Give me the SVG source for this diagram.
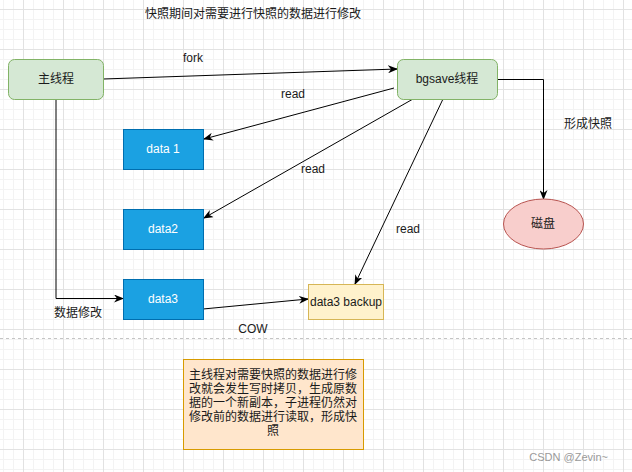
<svg xmlns="http://www.w3.org/2000/svg" width="632" height="472" viewBox="0 0 632 472">
<defs>
<pattern id="grid" x="23" y="9" width="40" height="40" patternUnits="userSpaceOnUse">
<path d="M10.5,0 V40 M20.5,0 V40 M30.5,0 V40 M0,10.5 H40 M0,20.5 H40 M0,30.5 H40" stroke="#f3f3f3" stroke-width="1" fill="none"/>
<path d="M0.5,0 V40 M0,0.5 H40" stroke="#e2e2e2" stroke-width="1" fill="none"/>
</pattern>
<marker id="arr" viewBox="0 0 10 8" refX="9" refY="4" markerWidth="10" markerHeight="8" markerUnits="userSpaceOnUse" orient="auto">
<path d="M0,0 L10,4 L0,8 L3,4 z" fill="#000"/>
</marker>
<style>
text{font-family:"Liberation Sans","Noto Sans CJK SC",sans-serif;font-size:12px;fill:#1a1a1a;}
.c{text-anchor:middle;dominant-baseline:central;}
.w{fill:#ffffff;}
.edge{fill:none;stroke:#000;stroke-width:1;marker-end:url(#arr);}
.green{fill:#d5e8d4;stroke:#82b366;stroke-width:1;}
.blue{fill:#1ba1e2;stroke:#006eaf;stroke-width:1;}
.yellow{fill:#fff2cc;stroke:#d6b656;stroke-width:1;}
.red{fill:#f8cecc;stroke:#b85450;stroke-width:1;}
.orange{fill:#ffe6cc;stroke:#d79b00;stroke-width:1;}
</style>
</defs>
<rect width="632" height="472" fill="#ffffff"/>
<rect width="632" height="472" fill="url(#grid)"/>
<line x1="0" y1="338.5" x2="632" y2="338.5" stroke="#c4c4c4" stroke-width="1" stroke-dasharray="3 3"/>
<text class="c" x="253" y="14">快照期间对需要进行快照的数据进行修改</text>

<g id="connectors">
<path class="edge" d="M103,79 L397,69"/>
<path class="edge" d="M394,88 L204,139"/>
<path class="edge" d="M413,99 L204,218"/>
<path class="edge" d="M443,99 L355,284"/>
<path class="edge" d="M497,79.5 H543.5 V199"/>
<path class="edge" d="M56,99 V298.5 H123"/>
<path class="edge" d="M203,309 L308,299"/>
<text class="c" x="193" y="58">fork</text>
<text class="c" x="293" y="94">read</text>
<text class="c" x="313" y="169">read</text>
<text class="c" x="408" y="229">read</text>
<text class="c" x="588" y="124">形成快照</text>
<text class="c" x="78" y="313">数据修改</text>
<text class="c" x="253" y="329">COW</text>
</g>

<g id="main-thread">
<rect class="green" x="8.5" y="59.5" width="95" height="40" rx="6"/>
<text class="c" x="56" y="79">主线程</text>
</g>
<g id="bgsave-thread">
<rect class="green" x="397.5" y="59.5" width="100" height="40" rx="6"/>
<text class="c" x="447" y="79">bgsave线程</text>
</g>
<g id="data1">
<rect class="blue" x="123.5" y="129.5" width="80" height="40"/>
<text class="c w" x="163" y="149">data 1</text>
</g>
<g id="data2">
<rect class="blue" x="123.5" y="209.5" width="80" height="40"/>
<text class="c w" x="163" y="229">data2</text>
</g>
<g id="data3">
<rect class="blue" x="123.5" y="279.5" width="80" height="40"/>
<text class="c w" x="163" y="299">data3</text>
</g>
<g id="data3-backup">
<rect class="yellow" x="308.5" y="284.5" width="75" height="35"/>
<text class="c" x="346" y="302">data3 backup</text>
</g>
<g id="disk">
<ellipse class="red" cx="543.5" cy="224" rx="40" ry="25"/>
<text class="c" x="543" y="224">磁盘</text>
</g>
<g id="note">
<rect class="orange" x="183.5" y="359.5" width="180" height="90"/>
<text class="c" x="273" y="375">主线程对需要快照的数据进行修</text>
<text class="c" x="273" y="389">改就会发生写时拷贝，生成原数</text>
<text class="c" x="273" y="403">据的一个新副本，子进程仍然对</text>
<text class="c" x="273" y="417">修改前的数据进行读取，形成快</text>
<text class="c" x="273" y="431">照</text>
</g>
<text x="608" y="461" style="font-size:11px;fill:#9a9a9a;text-anchor:end;">CSDN @Zevin~</text>
</svg>
